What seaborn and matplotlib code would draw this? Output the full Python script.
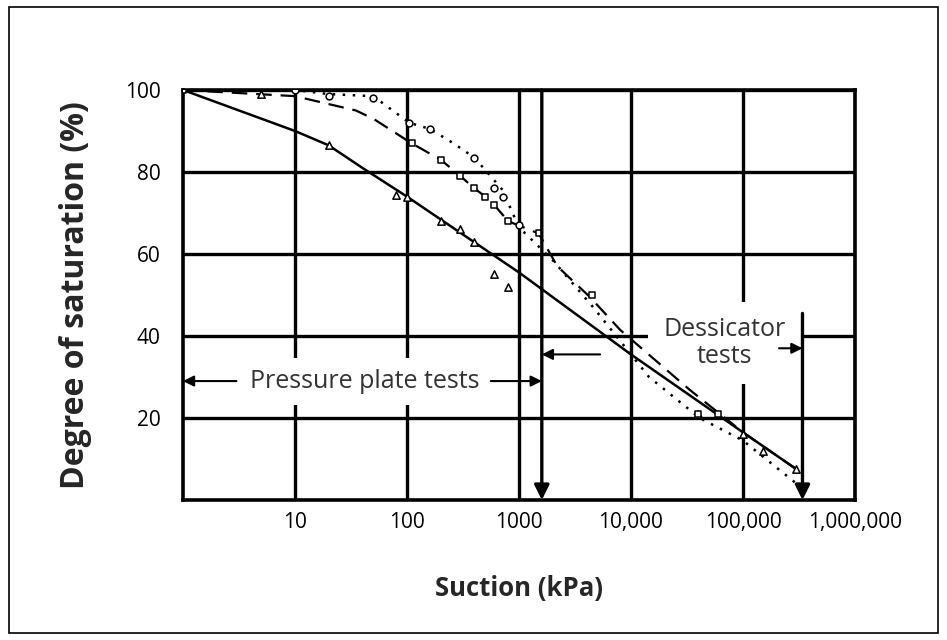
import numpy as np
import pandas as pd
import matplotlib
matplotlib.use("Agg")
import matplotlib.pyplot as plt
import matplotlib.ticker as mticker
from matplotlib.patches import Rectangle
import seaborn as sns

# 곡선 데이터
solid_x = [1, 10, 20, 40, 100, 1000, 10000, 100000, 300000]
solid_y = [100, 90, 86.5, 81, 74, 55.5, 35.5, 16.5, 7.5]

dash_x = [1, 10, 35, 50, 110, 200, 300, 400, 500, 600, 800, 1500, 2200, 4300, 8000, 33000, 100000, 300000]
dash_y = [100, 98.5, 95, 93, 87, 83, 79, 76, 74, 72, 68, 65, 57, 49.5, 41.5, 27, 16.5, 7.5]

dot_x = [1, 10, 20, 50, 105, 160, 260, 400, 600, 720, 830, 1000, 2000, 4600, 14500, 41000, 100000, 300000]
dot_y = [100, 100, 99, 98.5, 92, 90.5, 87, 83.5, 78, 75.5, 71.5, 66.5, 58.5, 47, 30, 20, 14.5, 4]

# 측정점
tri_x = [5, 20, 80, 100, 200, 300, 400, 600, 800, 40000, 100000, 150000, 300000]
tri_y = [99, 86.5, 74.5, 74, 68, 66, 63, 55, 52, 21, 16, 12, 7.5]
sq_x = [1, 110, 200, 300, 400, 500, 600, 800, 1500, 4500, 40000, 60000]
sq_y = [100, 87, 83, 79, 76, 74, 72, 68, 65, 50, 21, 21]
circ_x = [10, 20, 50, 105, 160, 400, 600, 720, 1000]
circ_y = [100, 98.5, 98, 92, 90.5, 83.5, 76, 74, 67]

x_ticks = [10, 100, 1000, 10000, 100000, 1000000]
x_ticklabels = ["10", "100", "1000", "10,000", "100,000", "1,000,000"]
y_ticks = [20, 40, 60, 80, 100]

pp_limit = 1600        # 압력판 시험 한계
dess_limit = 340000    # 데시케이터 시험 한계

sns.set_style("white")
plt.rcParams["font.family"] = ["Open Sans", "DejaVu Sans"]

fig = plt.figure(figsize=(9.47, 6.4), dpi=100)
ax = fig.add_axes([0.1932, 0.2188, 0.7096, 0.6406])

ax.set_xscale("log")
ax.set_xlim(1, 1e6)
ax.set_ylim(0, 100)

# 곡선
sns.lineplot(x=solid_x, y=solid_y, ax=ax, color="black", lw=1.8,
             estimator=None, sort=False, zorder=3)
sns.lineplot(x=dash_x, y=dash_y, ax=ax, color="black", lw=1.6,
             linestyle=(0, (7, 4)), estimator=None, sort=False, zorder=3)
sns.lineplot(x=dot_x, y=dot_y, ax=ax, color="black", lw=1.8,
             linestyle=(0, (1, 3)), estimator=None, sort=False, zorder=3)

sns.scatterplot(x=tri_x, y=tri_y, ax=ax, marker="^", s=28, color="white",
                edgecolor="black", linewidth=1.1, zorder=4)
sns.scatterplot(x=sq_x, y=sq_y, ax=ax, marker="s", s=24, color="white",
                edgecolor="black", linewidth=1.1, zorder=4)
sns.scatterplot(x=circ_x, y=circ_y, ax=ax, marker="o", s=24, color="white",
                edgecolor="black", linewidth=1.1, zorder=4)

# 축, 격자
ax.set_axisbelow(True)
ax.set_xticks(x_ticks)
ax.set_xticklabels(x_ticklabels)
ax.set_yticks(y_ticks)
ax.xaxis.set_minor_locator(mticker.LogLocator(base=10, subs=np.arange(2, 10), numticks=20))
ax.xaxis.set_minor_formatter(mticker.NullFormatter())
ax.yaxis.set_minor_locator(mticker.MultipleLocator(4))
ax.grid(True, which="major", color="black", lw=2.4)
ax.tick_params(which="major", length=0, labelsize=15, colors="black")
ax.tick_params(axis="x", which="major", pad=9)
ax.tick_params(axis="y", which="major", pad=16)
ax.tick_params(which="minor", direction="in", length=5, width=1.3, color="black")
for sp in ax.spines.values():
    sp.set_color("black")
    sp.set_linewidth(2.6)

ax.set_xlabel("Suction (kPa)", fontsize=18.5, fontweight="bold", labelpad=30)
ax.set_ylabel("Degree of saturation (%)", fontsize=23, fontweight="bold", labelpad=24)

# 시험 구간 표시
arrow = dict(arrowstyle="-|>", color="black", lw=1.5, mutation_scale=16, shrinkA=0, shrinkB=0)
vline = dict(arrowstyle="-|>", color="black", lw=2.4, mutation_scale=22, shrinkA=0, shrinkB=0)

ax.annotate("", xy=(pp_limit, 0), xytext=(pp_limit, 100), arrowprops=vline, zorder=5)
ax.annotate("", xy=(dess_limit, 0), xytext=(dess_limit, 45.5), arrowprops=vline, zorder=5)

ax.text(42, 29, "Pressure plate tests", ha="center", va="center", fontsize=18,
        color="#333333", zorder=2.5,
        bbox=dict(facecolor="white", edgecolor="none", pad=8))
ax.annotate("", xy=(1, 29), xytext=(3.0, 29), arrowprops=arrow, zorder=5)
ax.annotate("", xy=(pp_limit, 29), xytext=(560, 29), arrowprops=arrow, zorder=5)

ax.text(68000, 38.3, "Dessicator\ntests", ha="center", va="center", fontsize=18,
        color="#333333", linespacing=1.1, zorder=2.5,
        bbox=dict(facecolor="white", edgecolor="none", pad=11))
ax.annotate("", xy=(pp_limit, 35.5), xytext=(5300, 35.5), arrowprops=arrow, zorder=5)
ax.annotate("", xy=(dess_limit, 37), xytext=(210000, 37), arrowprops=arrow, zorder=5)

# 그림 테두리
fig.patches.append(Rectangle((9 / 947, 7 / 640), 929 / 947, 626 / 640,
                             transform=fig.transFigure, fill=False,
                             edgecolor="black", lw=1.2))

plt.savefig("out.png", dpi=100)
